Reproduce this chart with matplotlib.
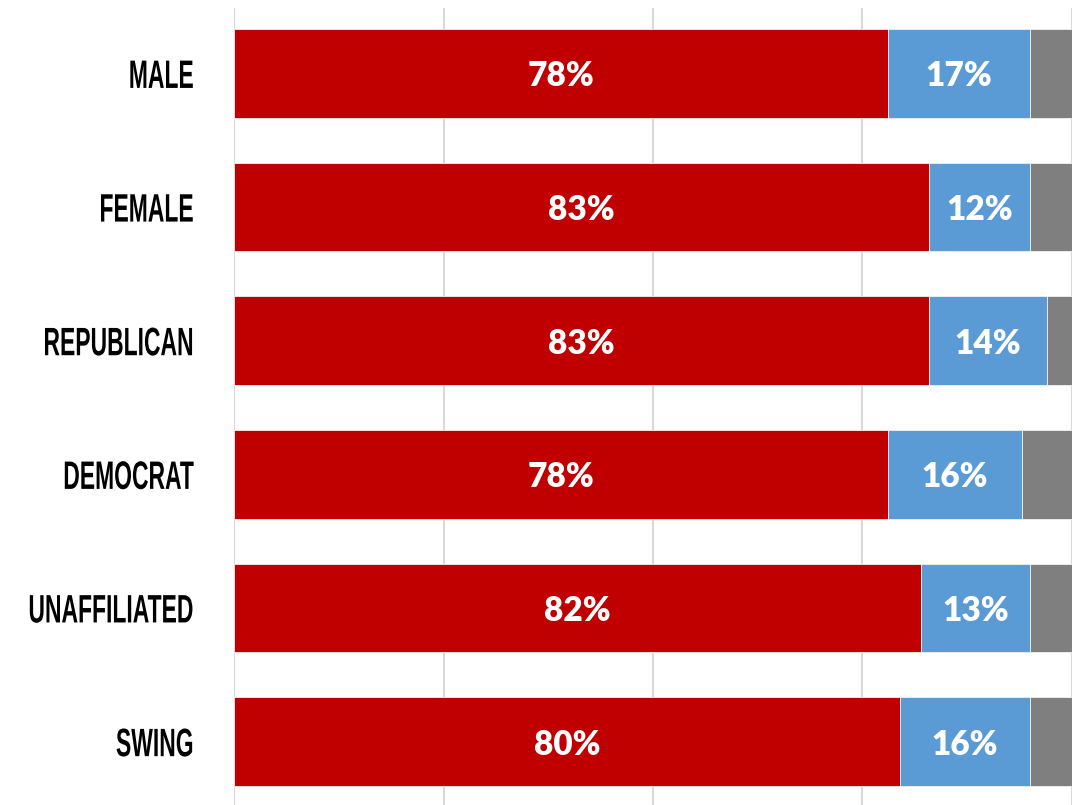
import matplotlib.pyplot as plt
from matplotlib.patheffects import AbstractPathEffect
from matplotlib.transforms import Affine2D

# data
groups = ['MALE', 'FEMALE', 'REPUBLICAN', 'DEMOCRAT', 'UNAFFILIATED', 'SWING']
red_vals = [78, 83, 83, 78, 82, 79.5]
blue_vals = [17, 12, 14, 16, 13, 15.5]
gray_vals = [100 - r - b for r, b in zip(red_vals, blue_vals)]

RED = '#C00000'
BLUE = '#5B9BD5'
GRAY = '#7F7F7F'


class Stretch(AbstractPathEffect):
    """Scale drawn text around its right edge / vertical middle (fake condensed font)."""
    def __init__(self, sx=1.0, sy=1.0):
        super().__init__()
        self.sx, self.sy = sx, sy

    def draw_path(self, renderer, gc, tpath, affine, rgbFace=None):
        ext = tpath.get_extents(affine)
        x0 = ext.x1
        y0 = (ext.y0 + ext.y1) / 2
        extra = Affine2D().translate(-x0, -y0).scale(self.sx, self.sy).translate(x0, y0)
        renderer.draw_path(gc, tpath, affine + extra, rgbFace)


fig = plt.figure(figsize=(10.74, 8.05), dpi=100)
ax = fig.add_axes([0.218, 0.0, 0.78, 0.99])

y = list(range(len(groups)))
h = 0.664
ax.barh(y, red_vals, height=h, color=RED, edgecolor='#F2F2F2', linewidth=0.6, zorder=2)
ax.barh(y, blue_vals, left=red_vals, height=h, color=BLUE, edgecolor='#F2F2F2', linewidth=0.6, zorder=2)
left_gray = [r + b for r, b in zip(red_vals, blue_vals)]
ax.barh(y, gray_vals, left=left_gray, height=h, color=GRAY, edgecolor='#F2F2F2', linewidth=0.6, zorder=2)

lab_font = dict(family=['Lato', 'DejaVu Sans'], weight='heavy', fontsize=24, color='white',
                ha='center', va='center_baseline', zorder=3)
for i in y:
    ax.text(red_vals[i] / 2, i, f'{red_vals[i]:.0f}%', **lab_font)
    ax.text(red_vals[i] + blue_vals[i] / 2, i, f'{blue_vals[i]:.0f}%', **lab_font)

ax.set_xlim(0, 100)
ax.set_ylim(5.474, -0.489)
ax.set_xticks([0, 25, 50, 75, 100])
ax.set_xticklabels([])
ax.tick_params(axis='x', length=0)
ax.tick_params(axis='y', length=0, pad=29)
ax.grid(axis='x', color='#D9D9D9', linewidth=1.5, zorder=0)
ax.set_axisbelow(True)
for s in ax.spines.values():
    s.set_visible(False)

ax.set_yticks(y)
ax.set_yticklabels(groups, family=['Liberation Sans', 'DejaVu Sans'], weight='bold',
                   fontsize=17)
for t in ax.get_yticklabels():
    t.set_path_effects([Stretch(0.97, 1.68)])

fig.savefig('out.png', dpi=100)
